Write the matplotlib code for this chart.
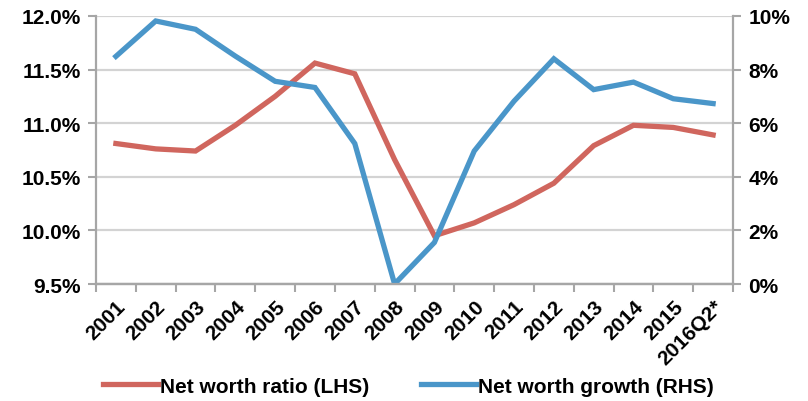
import matplotlib
matplotlib.use("Agg")
import matplotlib.pyplot as plt
import numpy as np

# Data
labels = ["2001", "2002", "2003", "2004", "2005", "2006", "2007", "2008",
          "2009", "2010", "2011", "2012", "2013", "2014", "2015", "2016Q2*"]
ratio_lhs = [10.81, 10.76, 10.74, 10.98, 11.25, 11.56, 11.46, 10.66,
             9.95, 10.07, 10.24, 10.44, 10.79, 10.98, 10.96, 10.89]
growth_rhs = [8.49, 9.81, 9.50, 8.50, 7.56, 7.33, 5.24, 0.0,
              1.55, 4.96, 6.82, 8.40, 7.25, 7.53, 6.91, 6.73]

red = "#D0665E"
blue = "#4A96C9"
grid_col = "#D3D3D3"
spine_col = "#A6A6A6"
fs = 15

plt.rcParams['font.family'] = ['Liberation Sans', 'DejaVu Sans']
plt.rcParams['font.weight'] = 'bold'

fig = plt.figure(figsize=(8.08, 4.02), dpi=100)
ax = fig.add_axes([0.1188, 0.291, 0.7884, 0.667])
ax2 = ax.twinx()

x = np.arange(len(labels))
l1, = ax.plot(x, ratio_lhs, color=red, lw=3.8, solid_joinstyle='miter',
              label="Net worth ratio (LHS)")
l2, = ax2.plot(x, growth_rhs, color=blue, lw=3.8, solid_joinstyle='miter',
               label="Net worth growth (RHS)")

ax.set_xlim(-0.5, len(labels) - 0.5)
ax.set_ylim(9.5, 12.0)
ax.set_yticks(np.arange(9.5, 12.01, 0.5))
ax.set_yticklabels([f"{v:.1f}%" for v in np.arange(9.5, 12.01, 0.5)])
ax2.set_ylim(0, 10)
ax2.set_yticks(np.arange(0, 11, 2))
ax2.set_yticklabels([f"{v}%" for v in range(0, 11, 2)])

# category boundaries get the tick marks, labels sit at the centres
ax.set_xticks(np.arange(-0.5, len(labels), 1.0))
ax.set_xticklabels([])
ax.set_xticks(x, minor=True)
ax.set_xticklabels(labels, minor=True, rotation=45, ha='right',
                   rotation_mode='anchor', fontsize=fs, fontweight='bold')
ax.tick_params(axis='x', which='minor', length=0, pad=9)
ax.tick_params(axis='x', which='major', length=6, color=spine_col, width=1.5)

ax.grid(True, axis='y', color=grid_col, lw=1.6)
ax.set_axisbelow(True)
for a in (ax, ax2):
    a.spines['top'].set_visible(False)
    for s in ('left', 'right', 'bottom'):
        a.spines[s].set_color(spine_col)
        a.spines[s].set_linewidth(1.6)
    a.tick_params(axis='y', length=6, color=spine_col, width=1.5,
                  labelsize=fs, pad=5)
ax2.spines['left'].set_visible(False)
ax.spines['right'].set_visible(False)

fig.legend(handles=[l1, l2], loc='center left', bbox_to_anchor=(0.114, 0.037),
           ncol=2, frameon=False, handlelength=2.65, borderpad=0,
           handletextpad=0.1, columnspacing=2.5,
           prop={'weight': 'bold', 'size': fs})

fig.savefig("out.png", dpi=100)
